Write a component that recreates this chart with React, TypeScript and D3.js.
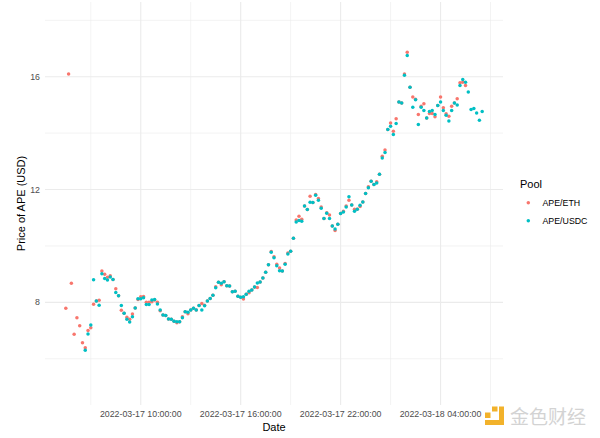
import React from "react";
import * as d3 from "d3";

const times: string[] = [
  "2022-03-17 05:30", "2022-03-17 05:40", "2022-03-17 05:50",
  "2022-03-17 06:00", "2022-03-17 06:10", "2022-03-17 06:20", "2022-03-17 06:30", "2022-03-17 06:40", "2022-03-17 06:50",
  "2022-03-17 07:00", "2022-03-17 07:10", "2022-03-17 07:20", "2022-03-17 07:30", "2022-03-17 07:40", "2022-03-17 07:50",
  "2022-03-17 08:00", "2022-03-17 08:10", "2022-03-17 08:20", "2022-03-17 08:30", "2022-03-17 08:40", "2022-03-17 08:50",
  "2022-03-17 09:00", "2022-03-17 09:10", "2022-03-17 09:20", "2022-03-17 09:30", "2022-03-17 09:40", "2022-03-17 09:50",
  "2022-03-17 10:00", "2022-03-17 10:10", "2022-03-17 10:20", "2022-03-17 10:30", "2022-03-17 10:40", "2022-03-17 10:50",
  "2022-03-17 11:00", "2022-03-17 11:10", "2022-03-17 11:20", "2022-03-17 11:30", "2022-03-17 11:40", "2022-03-17 11:50",
  "2022-03-17 12:00", "2022-03-17 12:10", "2022-03-17 12:20", "2022-03-17 12:30", "2022-03-17 12:40", "2022-03-17 12:50",
  "2022-03-17 13:00", "2022-03-17 13:10", "2022-03-17 13:20", "2022-03-17 13:30", "2022-03-17 13:40", "2022-03-17 13:50",
  "2022-03-17 14:00", "2022-03-17 14:10", "2022-03-17 14:20", "2022-03-17 14:30", "2022-03-17 14:40", "2022-03-17 14:50",
  "2022-03-17 15:00", "2022-03-17 15:10", "2022-03-17 15:20", "2022-03-17 15:30", "2022-03-17 15:40", "2022-03-17 15:50",
  "2022-03-17 16:00", "2022-03-17 16:10", "2022-03-17 16:20", "2022-03-17 16:30", "2022-03-17 16:40", "2022-03-17 16:50",
  "2022-03-17 17:00", "2022-03-17 17:10", "2022-03-17 17:20", "2022-03-17 17:30", "2022-03-17 17:40", "2022-03-17 17:50",
  "2022-03-17 18:00", "2022-03-17 18:10", "2022-03-17 18:20", "2022-03-17 18:30", "2022-03-17 18:40", "2022-03-17 18:50",
  "2022-03-17 19:00", "2022-03-17 19:10", "2022-03-17 19:20", "2022-03-17 19:30", "2022-03-17 19:40", "2022-03-17 19:50",
  "2022-03-17 20:00", "2022-03-17 20:10", "2022-03-17 20:20", "2022-03-17 20:30", "2022-03-17 20:40", "2022-03-17 20:50",
  "2022-03-17 21:00", "2022-03-17 21:10", "2022-03-17 21:20", "2022-03-17 21:30", "2022-03-17 21:40", "2022-03-17 21:50",
  "2022-03-17 22:00", "2022-03-17 22:10", "2022-03-17 22:20", "2022-03-17 22:30", "2022-03-17 22:40", "2022-03-17 22:50",
  "2022-03-17 23:00", "2022-03-17 23:10", "2022-03-17 23:20", "2022-03-17 23:30", "2022-03-17 23:40", "2022-03-17 23:50",
  "2022-03-18 00:00", "2022-03-18 00:10", "2022-03-18 00:20", "2022-03-18 00:30", "2022-03-18 00:40", "2022-03-18 00:50",
  "2022-03-18 01:00", "2022-03-18 01:10", "2022-03-18 01:20", "2022-03-18 01:30", "2022-03-18 01:40", "2022-03-18 01:50",
  "2022-03-18 02:00", "2022-03-18 02:10", "2022-03-18 02:20", "2022-03-18 02:30", "2022-03-18 02:40", "2022-03-18 02:50",
  "2022-03-18 03:00", "2022-03-18 03:10", "2022-03-18 03:20", "2022-03-18 03:30", "2022-03-18 03:40", "2022-03-18 03:50",
  "2022-03-18 04:00", "2022-03-18 04:10", "2022-03-18 04:20", "2022-03-18 04:30", "2022-03-18 04:40", "2022-03-18 04:50",
  "2022-03-18 05:00", "2022-03-18 05:10", "2022-03-18 05:20", "2022-03-18 05:30", "2022-03-18 05:40", "2022-03-18 05:50",
  "2022-03-18 06:00", "2022-03-18 06:10", "2022-03-18 06:20", "2022-03-18 06:30",
];

const apeEth: (number | null)[] = [
  7.79, 16.1, 8.68,
  6.87, 7.45, 7.17, 6.57, 6.39, 7.0,
  7.1, 7.93, 8.05, 8.07, 9.11, 9.0,
  8.89, 8.94, 8.81, 8.48, 8.23, 7.72,
  7.61, 7.47, 7.40, 7.59, 7.8, 8.1,
  8.2, 8.21, 8.0, 8.0, 8.02, 8.08,
  8.0, 7.7, 7.55, 7.53, 7.41, 7.40,
  7.33, 7.28, 7.31, 7.49, 7.67, 7.6,
  7.73, 7.79, 7.73, 7.89, 7.96, 7.9,
  8.05, 8.14, 8.25, 8.55, 8.71, 8.62,
  8.73, 8.59, 8.58, 8.38, 8.39, 8.22,
  8.18, 8.12, 8.29, 8.34, 8.44, 8.54,
  8.53, 8.72, 8.86, 9.07, 9.33, 9.8,
  9.62, 9.35, 9.22, 9.11, 9.38, 9.75,
  9.81, 10.27, 10.92, 11.05, 10.95, 11.42,
  11.29, 11.76, 11.54, 11.82, 11.68, 11.38,
  10.97, 11.18, 11.1, 10.71, 10.55, 10.77,
  11.15, 11.23, 11.42, 11.62, 11.45, 11.3,
  11.3, 11.4, 11.56, 11.86, 12.1, 12.29,
  12.18, 12.28, 12.54, 13.18, 13.4, 14.13,
  14.36, 14.07, 14.51, 15.1, 15.07, 16.1,
  16.87, 15.63, 15.28, 15.2, 14.66, 14.95,
  15.04, 14.54, 14.7, 14.7, 14.58, 14.98,
  15.28, 14.9, 14.69, 14.6, 14.95, 15.07,
  15.22, 15.79, 15.8, 15.69, null, null,
  null, null, null, null,
];

const apeUsdc: (number | null)[] = [
  null, null, null,
  null, null, null, null, 6.30, 6.88,
  7.2, 8.8, 8.05, 7.9, 9.01, 8.85,
  8.79, 8.9, 8.81, 8.35, 8.23, 7.89,
  7.61, 7.40, 7.30, 7.49, 7.8, 8.13,
  8.13, 8.16, 7.92, 7.92, 8.08, 8.1,
  7.94, 7.73, 7.55, 7.53, 7.41, 7.40,
  7.33, 7.31, 7.31, 7.45, 7.67, 7.65,
  7.73, 7.79, 7.73, 7.89, 7.73, 7.88,
  8.05, 8.14, 8.25, 8.52, 8.71, 8.68,
  8.73, 8.59, 8.58, 8.38, 8.39, 8.22,
  8.18, 8.2, 8.29, 8.39, 8.44, 8.54,
  8.69, 8.72, 8.86, 9.07, 9.33, 9.78,
  9.58, 9.3, 9.12, 9.11, 9.35, 9.71,
  9.81, 10.27, 10.85, 10.9, 10.88, 11.42,
  11.29, 11.55, 11.54, 11.8, 11.62, 11.34,
  10.97, 11.16, 10.97, 10.71, 10.6, 10.77,
  11.15, 11.2, 11.38, 11.74, 11.45, 11.23,
  11.3, 11.44, 11.56, 11.86, 12.06, 12.29,
  12.18, 12.23, 12.54, 13.12, 13.31, 14.13,
  14.24, 13.95, 14.34, 15.1, 15.07, 16.05,
  16.75, 15.63, 14.92, 15.18, 14.31, 14.92,
  14.8, 14.54, 14.77, 14.8, 14.66, 14.98,
  15.1, 14.8, 14.63, 14.43, 14.8, 15.07,
  15.0, 15.69, 15.9, 15.8, 15.46, 14.84,
  14.87, 14.71, 14.46, 14.77,
];

const pools = ["APE/ETH", "APE/USDC"];
const poolColors = ["#F8766D", "#00BFC4"];
const xMajorTicks = ["2022-03-17 10:00", "2022-03-17 16:00", "2022-03-17 22:00", "2022-03-18 04:00"];
const xMinorTicks = ["2022-03-17 07:00", "2022-03-17 13:00", "2022-03-17 19:00", "2022-03-18 01:00", "2022-03-18 07:00"];
const yMajorTicks = [8, 12, 16];
const yMinorTicks = [6, 10, 14, 18];
const yLimits = [4.36, 18.65];

const W = 600, H = 438;
const M = { left: 45, right: 503, top: 2, bottom: 405 };
const FONT = "'Liberation Sans', Arial, Helvetica, sans-serif";

export default function App() {
  const parse = d3.timeParse("%Y-%m-%d %H:%M");
  const fmt = d3.timeFormat("%Y-%m-%d %H:%M:%S");
  const tDates = times.map((t) => parse(t) as Date);
  const [t0, t1] = d3.extent(tDates) as [Date, Date];
  const pad = (t1.getTime() - t0.getTime()) * 0.05;
  const x = d3.scaleTime()
    .domain([new Date(t0.getTime() - pad), new Date(t1.getTime() + pad)])
    .range([M.left, M.right]);
  const y = d3.scaleLinear().domain(yLimits).range([M.bottom, M.top]);

  const series = [apeEth, apeUsdc];

  return (
    <svg width={W} height={H} style={{ position: "absolute", left: 0, top: 0, background: "#fff" }} fontFamily={FONT}>
      <rect x={0} y={0} width={W} height={H} fill="#fff" />
      {/* minor grid */}
      {yMinorTicks.map((v) => (
        <line key={"ym" + v} x1={M.left} x2={M.right} y1={y(v)} y2={y(v)} stroke="#EBEBEB" strokeWidth={0.6} />
      ))}
      {xMinorTicks.map((t) => (
        <line key={"xm" + t} x1={x(parse(t) as Date)} x2={x(parse(t) as Date)} y1={M.top} y2={M.bottom} stroke="#EBEBEB" strokeWidth={0.6} />
      ))}
      {/* major grid */}
      {yMajorTicks.map((v) => (
        <line key={"yM" + v} x1={M.left} x2={M.right} y1={y(v)} y2={y(v)} stroke="#EBEBEB" strokeWidth={1.1} />
      ))}
      {xMajorTicks.map((t) => (
        <line key={"xM" + t} x1={x(parse(t) as Date)} x2={x(parse(t) as Date)} y1={M.top} y2={M.bottom} stroke="#EBEBEB" strokeWidth={1.1} />
      ))}
      {/* points */}
      {series.map((vals, si) => (
        <g key={"s" + si} fill={poolColors[si]}>
          {vals.map((v, i) =>
            v == null ? null : <circle key={i} cx={x(tDates[i])} cy={y(v)} r={1.75} />
          )}
        </g>
      ))}
      {/* y tick labels */}
      {yMajorTicks.map((v) => (
        <text key={"yl" + v} x={40} y={y(v)} dy="0.35em" textAnchor="end" fontSize={8.8} fill="#4D4D4D">{v}</text>
      ))}
      {/* x tick labels */}
      {xMajorTicks.map((t) => (
        <text key={"xl" + t} x={x(parse(t) as Date)} y={417} textAnchor="middle" fontSize={8.8} fill="#4D4D4D">
          {fmt(parse(t) as Date)}
        </text>
      ))}
      {/* axis titles */}
      <text x={(M.left + M.right) / 2} y={430.5} textAnchor="middle" fontSize={11} fill="#000">Date</text>
      <text transform={`translate(24.5, ${(M.top + M.bottom) / 2}) rotate(-90)`} textAnchor="middle" fontSize={11} fill="#000">
        Price of APE (USD)
      </text>
      {/* legend */}
      <text x={520} y={187.5} fontSize={11} fill="#000">Pool</text>
      {pools.map((p, i) => (
        <g key={p}>
          <circle cx={528.3} cy={202.7 + i * 18} r={1.75} fill={poolColors[i]} />
          <text x={542.5} y={202.7 + i * 18} dy="0.35em" fontSize={8.8} fill="#000">{p}</text>
        </g>
      ))}
      {/* watermark */}
      <g fill="#F2B22B">
        <rect x={485} y={412.5} width={5.5} height={5.5} />
        <rect x={492} y={406.5} width={5.5} height={5} />
        <rect x={499} y={406.5} width={5} height={18.5} />
        <rect x={485} y={420} width={19} height={5} />
      </g>
      <text x={510} y={423.5} fontSize={19} fill="#D3D3D3" fontFamily="'Noto Sans CJK SC', sans-serif">金色财经</text>
    </svg>
  );
}
